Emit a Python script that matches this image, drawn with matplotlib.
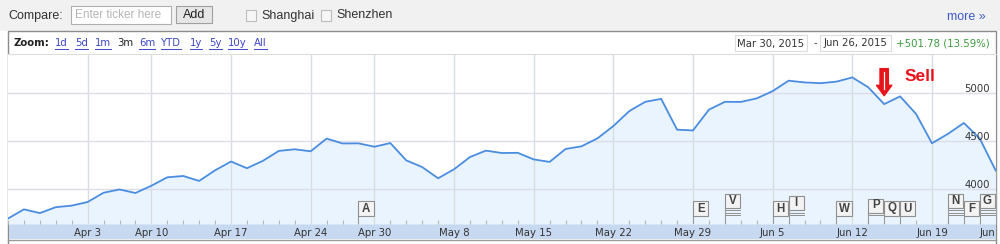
import numpy as np
import matplotlib
matplotlib.use("Agg")
import matplotlib.pyplot as plt
from matplotlib.patches import Rectangle
from matplotlib.transforms import Bbox, TransformedBbox

# SSE closes, Mar 27 (reference close) to Jun 26 2015
dates = ['Mar 27', 'Mar 30', 'Mar 31', 'Apr 1', 'Apr 2', 'Apr 3', 'Apr 7', 'Apr 8',
         'Apr 9', 'Apr 10', 'Apr 13', 'Apr 14', 'Apr 15', 'Apr 16', 'Apr 17',
         'Apr 20', 'Apr 21', 'Apr 22', 'Apr 23', 'Apr 24', 'Apr 27', 'Apr 28',
         'Apr 29', 'Apr 30', 'May 4', 'May 5', 'May 6', 'May 7', 'May 8', 'May 11',
         'May 12', 'May 13', 'May 14', 'May 15', 'May 18', 'May 19', 'May 20',
         'May 21', 'May 22', 'May 25', 'May 26', 'May 27', 'May 28', 'May 29',
         'Jun 1', 'Jun 2', 'Jun 3', 'Jun 4', 'Jun 5', 'Jun 8', 'Jun 9', 'Jun 10',
         'Jun 11', 'Jun 12', 'Jun 15', 'Jun 16', 'Jun 17', 'Jun 18', 'Jun 19',
         'Jun 23', 'Jun 24', 'Jun 25', 'Jun 26']
closes = [3691, 3787, 3748, 3810, 3826, 3864, 3961, 3995, 3958, 4034, 4122, 4136,
          4084, 4195, 4287, 4217, 4294, 4398, 4415, 4394, 4527, 4476, 4477, 4442,
          4480, 4299, 4229, 4112, 4206, 4334, 4401, 4376, 4378, 4309, 4283, 4418,
          4446, 4529, 4658, 4814, 4911, 4942, 4620, 4612, 4829, 4911, 4910, 4947,
          5023, 5132, 5114, 5106, 5122, 5166, 5063, 4887, 4968, 4785, 4478, 4576,
          4690, 4528, 4193]

tick_dates = ['Apr 3', 'Apr 10', 'Apr 17', 'Apr 24', 'Apr 30', 'May 8', 'May 15',
              'May 22', 'May 29', 'Jun 5', 'Jun 12', 'Jun 19', 'Jun 26']
y_ticks = [4000, 4500, 5000]

flag_letters = ['A', 'E', 'V', 'H', 'I', 'W', 'P', 'Q', 'U', 'N', 'F', 'G']
flag_dates = ['Apr 29', 'May 29', 'Jun 2', 'Jun 5', 'Jun 8', 'Jun 11', 'Jun 15',
              'Jun 16', 'Jun 17', 'Jun 23', 'Jun 24', 'Jun 25']
flag_stack = [0, 0, 3, 0, 2, 0, 1, 0, 0, 3, 0, 3]

sell_date = 'Jun 16'

W, H = 1000, 244
fig = plt.figure(figsize=(10, 2.44), dpi=100)

# page chrome, drawn in pixel coordinates
ui = fig.add_axes([0, 0, 1, 1])
ui.set_xlim(0, W)
ui.set_ylim(H, 0)
ui.axis('off')

ui.add_patch(Rectangle((0, 0), W, 31, color='#f1f1f1', lw=0))
arial = 'Liberation Sans'
ui.text(8, 15.5, 'Compare:', family=arial, size=9, color='#333333', va='center')
ui.add_patch(Rectangle((71, 6), 100, 18, fc='white', ec='#b0b0b0', lw=0.8))
ui.text(75, 15.5, 'Enter ticker here', family=arial, size=8.5, color='#b5b5b5', va='center')
ui.add_patch(Rectangle((176, 6), 36, 17, fc='#e6e6e6', ec='#a0a0a0', lw=0.8))
ui.text(194, 15, 'Add', family=arial, size=9, color='#222222', va='center', ha='center')
for cx, name in [(246, 'Shanghai'), (321, 'Shenzhen')]:
    ui.add_patch(Rectangle((cx, 10), 10, 11, fc='#f6f6f6', ec='#bdbdbd', lw=0.8))
    ui.text(cx + 15, 15.5, name, family=arial, size=9, color='#333333', va='center')
ui.text(986, 17.5, 'more »', family=arial, size=9, color='#3b5cc8', va='center', ha='right')

# chart box
ui.add_patch(Rectangle((8, 31), 988, 214, fc='white', ec='#8c8c8c', lw=1))
ui.add_patch(Rectangle((8.5, 224), 987, 15, fc='#c6d9f1', lw=0))
ui.plot([8, 996], [239.5, 239.5], color='#9a9a9a', lw=1)

ui.text(13, 43.5, 'Zoom:', family='DejaVu Sans', weight='bold', size=7.3,
        color='#222222', va='center')
links = [('1d', 55), ('5d', 75), ('1m', 95), ('3m', 117), ('6m', 139), ('YTD', 161),
         ('1y', 190), ('5y', 209), ('10y', 228), ('All', 254)]
link_texts = []
for lab, lx in links:
    col = '#222222' if lab == '3m' else '#3b46c8'
    t = ui.text(lx, 43.5, lab, family='DejaVu Sans', size=7.3, color=col, va='center')
    if lab != '3m':
        link_texts.append(t)

ui.add_patch(Rectangle((735, 35), 72, 16, fc='white', ec='#dddddd', lw=0.8))
ui.text(771, 43.5, 'Mar 30, 2015', family='DejaVu Sans', size=7.3, color='#333333',
        va='center', ha='center')
ui.text(815, 43.5, '-', family='DejaVu Sans', size=7.3, color='#333333', va='center', ha='center')
ui.add_patch(Rectangle((820, 35), 71, 16, fc='white', ec='#dddddd', lw=0.8))
ui.text(855.5, 43.5, 'Jun 26, 2015', family='DejaVu Sans', size=7.3, color='#333333',
        va='center', ha='center')
ui.text(990, 43.5, '+501.78 (13.59%)', family='DejaVu Sans', size=7.3, color='#3a9a3a',
        va='center', ha='right')

# price chart
ax = fig.add_axes([8 / W, (H - 224) / H, 988 / W, 170 / H])
ax.set_zorder(2)
x = np.arange(len(dates))
ymin, ymax = 3634, 5411
ax.set_xlim(0, 62.02)
ax.set_ylim(ymin, ymax)

ax.fill_between(x, closes, ymin, color='#e9f4fe', lw=0, zorder=1)
tick_pos = [dates.index(d) for d in tick_dates]
for tp in tick_pos:
    ax.axvline(tp, color='#d9dde2', lw=1, zorder=1.5)
for yv in y_ticks:
    ax.axhline(yv, color='#dcdcea', lw=1, zorder=1.5)
ax.plot(x, closes, color='#4a8de0', lw=1.3, zorder=3)

for sp in ['left', 'right', 'bottom']:
    ax.spines[sp].set_visible(False)
ax.spines['top'].set_color('#dddddd')

ax.set_yticks([])
ax.set_xticks(tick_pos)
ax.set_xticklabels(tick_dates)
ax.set_xticks(x, minor=True)
ax.tick_params(axis='x', which='major', length=0, pad=3.2, labelsize=7.3,
               labelcolor='#333333')
ax.tick_params(axis='x', which='minor', direction='in', length=2.8, width=0.8,
               color='#b5b5b5')
clip = TransformedBbox(Bbox.from_extents(0, 0, 996 / W, 1), fig.transFigure)
for lbl in ax.get_xticklabels():
    lbl.set_clip_on(True)
    lbl.set_clip_box(clip)

for yv in y_ticks:
    ax.annotate(str(yv), xy=(0.9939, yv), xycoords=('axes fraction', 'data'),
                xytext=(0, 0.8), textcoords='offset points', ha='right', va='baseline',
                size=7.3, color='#333333', family='DejaVu Sans')

# news flags
xt = ax.get_xaxis_transform()
def fy(py):
    return (224 - py) / 170.0
box_w = 0.95
for lab, d, n in zip(flag_letters, flag_dates, flag_stack):
    fx = dates.index(d)
    if n == 0:
        bottom, top = 216, 201
    else:
        bottom = 215 - 2.5 * n
        top = bottom - 14
    for k in range(n):
        ly = 215 - 2.5 * k
        ax.plot([fx, fx + box_w], [fy(ly), fy(ly)], transform=xt, color='#8f8f8f',
                lw=0.7, zorder=4, clip_on=False)
    ax.plot([fx, fx], [fy(bottom), 0], transform=xt, color='#9a9a9a', lw=0.8, zorder=4)
    ax.add_patch(Rectangle((fx, fy(bottom)), box_w, fy(top) - fy(bottom), transform=xt,
                           fc='#f3f3f3', ec='#8f8f8f', lw=0.8, zorder=5))
    ax.text(fx + box_w / 2, (fy(bottom) + fy(top)) / 2, lab, transform=xt, ha='center',
            va='center', family=arial, weight='bold', size=8.3, color='#444444', zorder=6)

# sell marker
sx = dates.index(sell_date)
ax.annotate('', xy=(sx, 4975), xytext=(sx, 5258),
            arrowprops=dict(arrowstyle='simple,head_length=0.75,head_width=1.1,tail_width=0.6',
                            mutation_scale=10, fc='#e8141c', ec='#e8141c',
                            shrinkA=0, shrinkB=0), zorder=6)
ax.plot([sx, sx], [5225, 5040], color='white', lw=0.9, zorder=7)
ax.text(sx + 1.25, 5181, 'Sell', family=arial, weight='bold', size=12.5,
        color='#e8141c', va='center', ha='left', zorder=7)

# underlines for zoom links
fig.canvas.draw()
r = fig.canvas.get_renderer()
inv = ui.transData.inverted()
for t in link_texts:
    bb = t.get_window_extent(r)
    (x0, _), (x1, _) = inv.transform([(bb.x0, bb.y0), (bb.x1, bb.y0)])
    ui.plot([x0, x1], [48.8, 48.8], color='#3b46c8', lw=0.7)

fig.savefig('out.png', dpi=100)
